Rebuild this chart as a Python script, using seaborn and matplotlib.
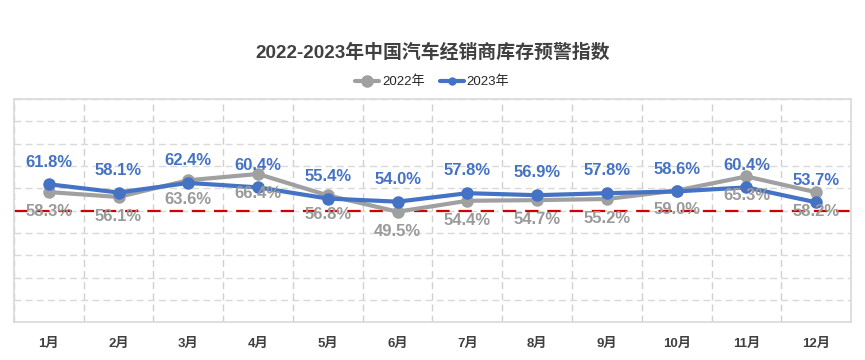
import pandas as pd, numpy as np
import matplotlib
matplotlib.use('Agg')
import matplotlib.pyplot as plt
from matplotlib.lines import Line2D
import seaborn as sns

sns.set_style('white')
plt.rcParams['font.family'] = ['Liberation Sans', 'Noto Sans CJK SC', 'DejaVu Sans']

# Datos
meses = ['1月', '2月', '3月', '4月', '5月', '6月', '7月', '8月', '9月', '10月', '11月', '12月']
v2022 = [58.3, 56.1, 63.6, 66.4, 56.8, 49.5, 54.4, 54.7, 55.2, 59.0, 65.3, 58.2]
v2023 = [61.8, 58.1, 62.4, 60.4, 55.4, 54.0, 57.8, 56.9, 57.8, 58.6, 60.4, 53.7]
series = ['2022年', '2023年']
colores = {'2022年': '#A0A0A0', '2023年': '#4472C4'}
linea_alerta = 50

df = pd.DataFrame({
    'mes': meses * 2,
    'valor': v2022 + v2023,
    'serie': [series[0]] * len(meses) + [series[1]] * len(meses),
})

fig = plt.figure(figsize=(8.65, 3.6), dpi=100)
ax = fig.add_axes([0.016, 0.105, 0.968, 0.62])

sns.lineplot(data=df, x='mes', y='valor', hue='serie', palette=colores,
             marker='o', markersize=9, markeredgewidth=0, linewidth=3,
             sort=False, ax=ax, legend=False)

ax.axhline(linea_alerta, color='#D00000', ls=(0, (6, 4)), lw=1.6, zorder=1)

# etiquetas
nums = dict(fontweight='bold', fontsize=12)
for i, (a, b) in enumerate(zip(v2022, v2023)):
    ax.annotate(f'{b:.1f}%', (i, b), xytext=(0, 16), textcoords='offset points',
                ha='center', va='center', color='#4472C4', **nums)
    ax.annotate(f'{a:.1f}%', (i, a), xytext=(0, -14), textcoords='offset points',
                ha='center', va='center', color='#9A9A9A', **nums)

ax.set_ylim(0, 100)
ax.set_xlim(-0.5, len(meses) - 0.5)
ax.set_yticks(np.arange(0, 101, 10))
ax.set_yticklabels([])
ax.set_xticks(np.arange(len(meses)))
ax.set_xticklabels(meses, fontweight='bold', fontsize=9.5, color='#404040')
ax.set_xticks(np.arange(-0.5, len(meses)), minor=True)
ax.tick_params(axis='y', length=0)
ax.tick_params(axis='x', which='major', length=0, pad=11)
ax.tick_params(axis='x', which='minor', length=6, color='#C8C8C8')
ax.grid(axis='y', color='#D9D9D9', ls=(0, (5, 3)), lw=1)
ax.grid(axis='x', which='minor', color='#D0D0D0', ls=(0, (5, 3)), lw=1)
ax.set_xlabel(''); ax.set_ylabel('')
for s in ax.spines.values():
    s.set_color('#D9D9D9'); s.set_linewidth(1.2)

fig.text(0.5, 0.853, '2022-2023年中国汽车经销商库存预警指数', ha='center', va='center',
         fontsize=13.6, fontweight='bold', color='#404040')

h = [Line2D([], [], color=colores['2022年'], lw=3, marker='o', markersize=8),
     Line2D([], [], color=colores['2023年'], lw=3, marker='o', markersize=5)]
fig.legend(h, series, loc='center', bbox_to_anchor=(0.5, 0.772), ncol=2, frameon=False,
           fontsize=9.5, handlelength=1.8, handletextpad=0.2, columnspacing=1.2)

plt.savefig('out.png', dpi=100)
